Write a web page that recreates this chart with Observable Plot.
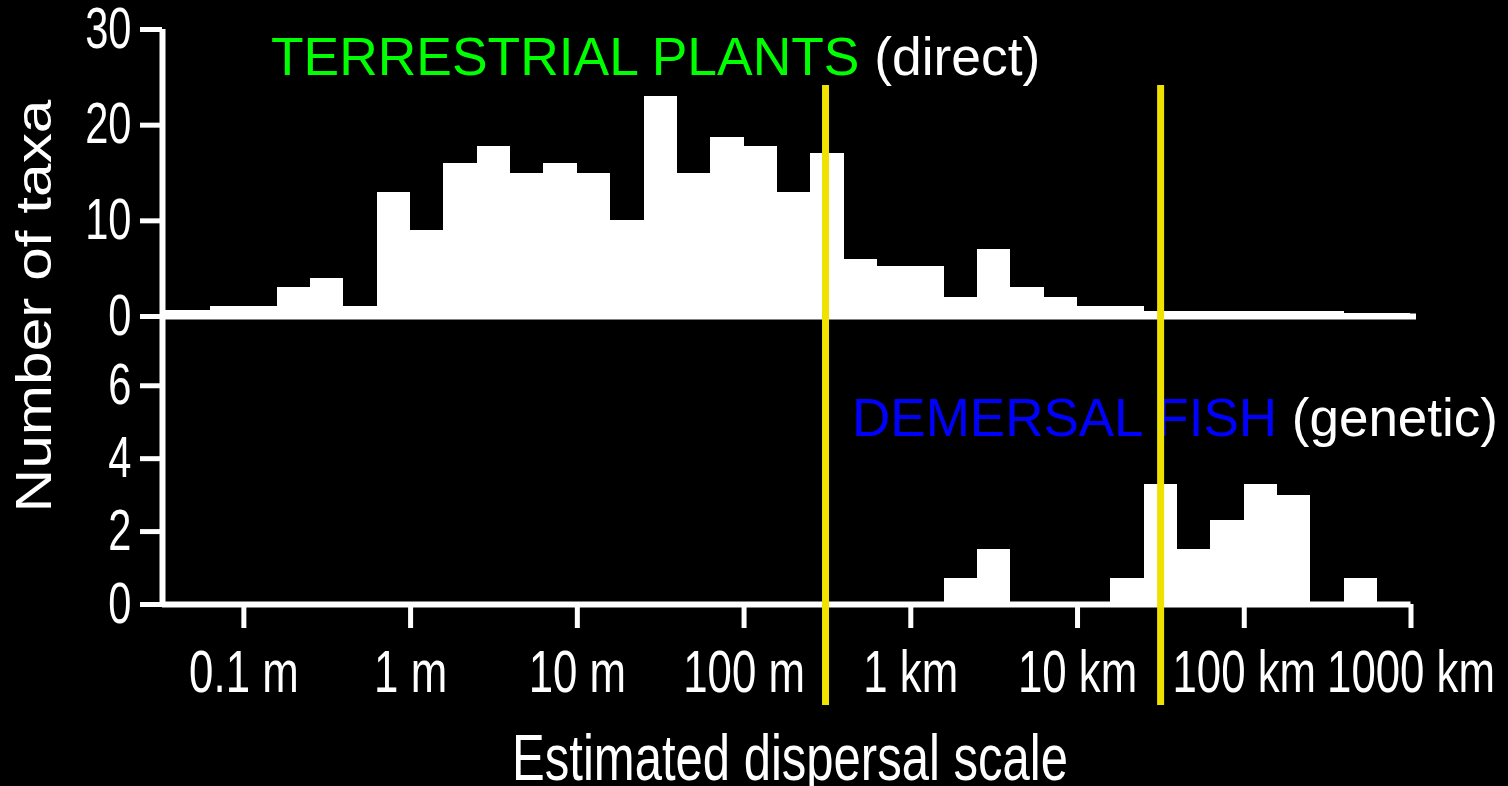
<!DOCTYPE html>
<html>
<head>
<meta charset="utf-8">
<script src="https://cdn.jsdelivr.net/npm/d3@7"></script>
<script src="https://cdn.jsdelivr.net/npm/@observablehq/plot@0.6"></script>
<style>
  html, body { margin: 0; padding: 0; background: #000; }
  #wrap { position: relative; width: 1508px; height: 786px; background: #000; overflow: hidden; }
  #wrap > svg { position: absolute; left: 0; top: 0; }
</style>
</head>
<body>
<div id="wrap"></div>
<script>
// ---- data ----
// left edge of each histogram bin, log10(metres); bins are 0.2 decade wide
const binStartLog10 = [-1.6, -1.4, -1.2, -1.0, -0.8, -0.6, -0.4, -0.2, 0.0, 0.2,
                        0.4, 0.6, 0.8, 1.0, 1.2, 1.4, 1.6, 1.8, 2.0, 2.2,
                        2.4, 2.6, 2.8, 3.0, 3.2, 3.4, 3.6, 3.8, 4.0, 4.2,
                        4.4, 4.6, 4.8, 5.0, 5.2, 5.4, 5.6, 5.8];
const binWidthLog10 = 0.2;
// TERRESTRIAL PLANTS (direct) – number of taxa per bin
const plantTaxa = [0.6, 0.6, 1, 1, 3, 4, 1, 13, 9, 16,
                   17.8, 15, 16, 15, 10, 23, 15, 18.7, 17.8, 13,
                   17, 6, 5.2, 5.2, 2, 7, 3, 2, 1, 1,
                   0.5, 0.5, 0.5, 0.5, 0.5, 0.5, 0.3, 0.3];
// DEMERSAL FISH (genetic) – number of taxa per bin
const fishTaxa = [0, 0, 0, 0, 0, 0, 0, 0, 0, 0,
                  0, 0, 0, 0, 0, 0, 0, 0, 0, 0,
                  0, 0, 0, 0, 0.7, 1.5, 0, 0, 0, 0.7,
                  3.3, 1.5, 2.3, 3.3, 3.0, 0, 0.7, 0];
const plantTicks = [0, 10, 20, 30];
const fishTicks = [0, 2, 4, 6];
const distanceTicks = [0.1, 1, 10, 100, 1e3, 1e4, 1e5, 1e6];
const distanceTickLabels = ["0.1 m", "1 m", "10 m", "100 m", "1 km", "10 km", "100 km", "1000 km"];
const dividerDistances = [308, 31500]; // yellow separators (m)
const xDomain = [Math.pow(10, -1.488), Math.pow(10, 6.033)];
const plantDomain = [0, 30];
const fishDomain = [0, 7.9];

// ---- tables ----
const plantRows = binStartLog10.map((e, i) => ({x1: Math.pow(10, e), x2: Math.pow(10, e + binWidthLog10), n: plantTaxa[i]})).filter(d => d.n > 0);
const fishRows = binStartLog10.map((e, i) => ({x1: Math.pow(10, e), x2: Math.pow(10, e + binWidthLog10), n: fishTaxa[i]})).filter(d => d.n > 0);
const labelOf = new Map(distanceTicks.map((d, i) => [d, distanceTickLabels[i]]));

const FONT = "'Liberation Sans', Arial, Helvetica, sans-serif";
const plotStyle = {background: "transparent", color: "white", fontFamily: FONT, overflow: "visible"};
const common = {width: 1508, height: 786, marginLeft: 162, marginRight: 92, style: plotStyle};

const plantPlot = Plot.plot({
  ...common,
  marginTop: 29, marginBottom: 470,
  x: {type: "log", domain: xDomain, axis: null},
  y: {domain: plantDomain},
  marks: [
    Plot.rectY(plantRows, {x1: "x1", x2: "x2", y: "n", fill: "white", clip: true, shapeRendering: "crispEdges"}),
    Plot.ruleY([0], {stroke: "white", strokeWidth: 6}),
    Plot.ruleX([xDomain[0]], {stroke: "white", strokeWidth: 6}),
    Plot.axisY({ticks: plantTicks, tickSize: 22, tickPadding: 9, strokeWidth: 5, fontSize: 57, label: null})
  ]
});

const fishPlot = Plot.plot({
  ...common,
  marginTop: 316, marginBottom: 182,
  x: {type: "log", domain: xDomain},
  y: {domain: fishDomain},
  marks: [
    Plot.rectY(fishRows, {x1: "x1", x2: "x2", y: "n", fill: "white", clip: true, shapeRendering: "crispEdges"}),
    Plot.ruleY([0], {x1: xDomain[0], x2: 1e6, stroke: "white", strokeWidth: 6}),
    Plot.ruleX([xDomain[0]], {stroke: "white", strokeWidth: 6}),
    Plot.axisY({ticks: fishTicks, tickSize: 22, tickPadding: 9, strokeWidth: 5, fontSize: 57, label: null}),
    Plot.axisX({ticks: distanceTicks, tickFormat: d => labelOf.get(d), tickSize: 24, tickPadding: 21, strokeWidth: 5, fontSize: 60, label: null})
  ]
});

const dividerPlot = Plot.plot({
  ...common,
  marginTop: 85, marginBottom: 81,
  x: {type: "log", domain: xDomain, axis: null},
  marks: [
    Plot.ruleX(dividerDistances, {stroke: "#efe100", strokeWidth: 7})
  ]
});

const wrap = document.getElementById("wrap");
wrap.appendChild(plantPlot);
wrap.appendChild(fishPlot);

const NS = "http://www.w3.org/2000/svg";
const labels = document.createElementNS(NS, "svg");
labels.setAttribute("width", 1508);
labels.setAttribute("height", 786);
labels.style.fontFamily = FONT;
labels.innerHTML = `
  <text x="271" y="75" font-size="53.4"><tspan fill="#00ff00">TERRESTRIAL PLANTS</tspan><tspan fill="#ffffff"> (direct)</tspan></text>
  <text x="852" y="436" font-size="53"><tspan fill="#0000ff">DEMERSAL FISH</tspan><tspan fill="#ffffff"> (genetic)</tspan></text>
  <text id="ylab" text-anchor="middle" font-size="50" fill="#fff">Number of taxa</text>
  <text id="xlab" text-anchor="middle" font-size="65" fill="#fff">Estimated dispersal scale</text>
`;
wrap.appendChild(labels);
wrap.appendChild(dividerPlot);

// axis titles: stretch / condense to the original lettering
function fitTitle(id, tx, ty, rotate, targetLength) {
  const t = labels.querySelector("#" + id);
  const k = targetLength / t.getComputedTextLength();
  t.setAttribute("transform", `translate(${tx},${ty})${rotate ? ` rotate(${rotate})` : ""} scale(${k.toFixed(4)},1)`);
}
fitTitle("ylab", 51, 306, -90, 413);
fitTitle("xlab", 790, 780, 0, 556);

// condensed tick lettering, as in the original figure
function condense(svg, selector, factor, anchor) {
  svg.querySelectorAll(selector).forEach(t => {
    const r = t.getBoundingClientRect();
    const cx = anchor === "end" ? r.right : anchor === "start" ? r.left : r.left + r.width / 2;
    const pt = svg.createSVGPoint();
    pt.x = cx; pt.y = r.top;
    const q = pt.matrixTransform(t.parentNode.getScreenCTM().inverse());
    const g = document.createElementNS(NS, "g");
    g.setAttribute("transform", `translate(${q.x},0) scale(${factor},1) translate(${-q.x},0)`);
    t.parentNode.insertBefore(g, t);
    g.appendChild(t);
  });
}
condense(plantPlot, 'g[aria-label="y-axis tick label"] text', 0.73, "end");
condense(fishPlot, 'g[aria-label="y-axis tick label"] text', 0.73, "end");
condense(fishPlot, 'g[aria-label="x-axis tick label"] text', 0.73, "middle");
</script>
</body>
</html>
